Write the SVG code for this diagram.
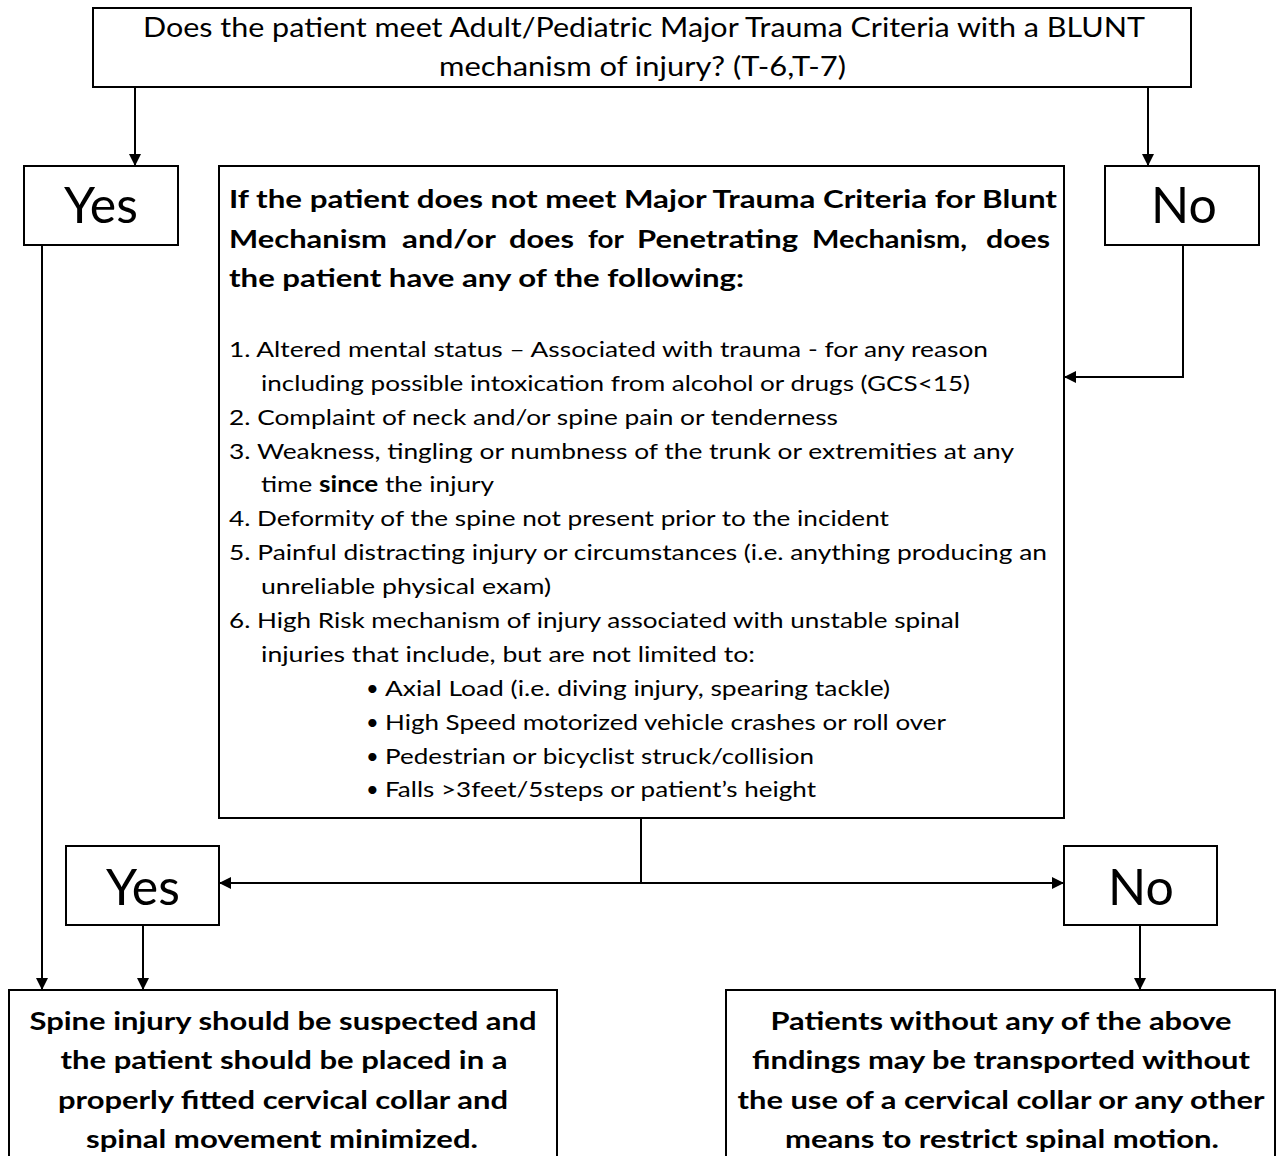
<svg xmlns="http://www.w3.org/2000/svg" width="1279" height="1156" viewBox="0 0 1279 1156">
<defs>
<marker id="ah" viewBox="0 0 10 10" refX="10" refY="5" markerWidth="12" markerHeight="12" markerUnits="userSpaceOnUse" orient="auto"><path d="M0,0 L10,5 L0,10 z" fill="#000"/></marker>
<style>
.box{fill:#fff;stroke:#000;stroke-width:2}
.c{fill:none;stroke:#000;stroke-width:2}
.ar{marker-end:url(#ah)}
text{font-family:Lato,"Open Sans","Liberation Sans",sans-serif;fill:#000}
.top{font-size:26px}
.yn{font-size:50px;text-anchor:middle}
.hd{font-size:25.5px;font-weight:bold}
.li{font-size:22px}
.bt{font-size:25.5px;font-weight:bold;text-anchor:middle}
</style>
</defs>
<rect width="1279" height="1156" fill="#fff"/>
<g id="connectors">
<path class="c ar" d="M135,87 V166"/>
<path class="c ar" d="M1148,87 V166"/>
<path class="c ar" d="M42,245 V990"/>
<path class="c ar" d="M1183,245 V377 H1064"/>
<path class="c" d="M641,818 V883"/>
<path class="c ar" d="M641,883 H219"/>
<path class="c ar" d="M641,883 H1064"/>
<path class="c ar" d="M143,925 V990"/>
<path class="c ar" d="M1140,925 V990"/>
</g>
<g id="q1">
<rect class="box" x="93" y="8" width="1098" height="79"/>
<text class="top" x="143" y="37" textLength="1002" lengthAdjust="spacingAndGlyphs">Does the patient meet Adult/Pediatric Major Trauma Criteria with a BLUNT</text>
<text class="top" x="439" y="76" textLength="407" lengthAdjust="spacingAndGlyphs">mechanism of injury? (T-6,T-7)</text>
</g>
<g id="yes1">
<rect class="box" x="24" y="166" width="154" height="79"/>
<text class="yn" x="101" y="223">Yes</text>
</g>
<g id="no1">
<rect class="box" x="1105" y="166" width="154" height="79"/>
<text class="yn" x="1184" y="223">No</text>
</g>
<g id="q2">
<rect class="box" x="219" y="166" width="845" height="652"/>
<text class="hd" x="229" y="208" textLength="828" lengthAdjust="spacingAndGlyphs">If the patient does not meet Major Trauma Criteria for Blunt</text>
<text class="hd" x="229" y="248" textLength="158" lengthAdjust="spacingAndGlyphs">Mechanism</text>
<text class="hd" x="402" y="248" textLength="94" lengthAdjust="spacingAndGlyphs">and/or</text>
<text class="hd" x="509" y="248" textLength="65" lengthAdjust="spacingAndGlyphs">does</text>
<text class="hd" x="588" y="248" textLength="36" lengthAdjust="spacingAndGlyphs">for</text>
<text class="hd" x="637" y="248" textLength="161" lengthAdjust="spacingAndGlyphs">Penetrating</text>
<text class="hd" x="812" y="248" textLength="155" lengthAdjust="spacingAndGlyphs">Mechanism,</text>
<text class="hd" x="986" y="248" textLength="64" lengthAdjust="spacingAndGlyphs">does</text>
<text class="hd" x="229" y="287" textLength="515" lengthAdjust="spacingAndGlyphs">the patient have any of the following:</text>
<text class="li" x="229" y="357" textLength="759" lengthAdjust="spacingAndGlyphs">1. Altered mental status – Associated with trauma - for any reason</text>
<text class="li" x="261" y="391" textLength="709" lengthAdjust="spacingAndGlyphs">including possible intoxication from alcohol or drugs (GCS&lt;15)</text>
<text class="li" x="229" y="425" textLength="609" lengthAdjust="spacingAndGlyphs">2. Complaint of neck and/or spine pain or tenderness</text>
<text class="li" x="229" y="459" textLength="785" lengthAdjust="spacingAndGlyphs">3. Weakness, tingling or numbness of the trunk or extremities at any</text>
<text class="li" x="261" y="492" textLength="233" lengthAdjust="spacingAndGlyphs">time <tspan font-weight="bold">since</tspan> the injury</text>
<text class="li" x="229" y="526" textLength="660" lengthAdjust="spacingAndGlyphs">4. Deformity of the spine not present prior to the incident</text>
<text class="li" x="229" y="560" textLength="818" lengthAdjust="spacingAndGlyphs">5. Painful distracting injury or circumstances (i.e. anything producing an</text>
<text class="li" x="261" y="594" textLength="290" lengthAdjust="spacingAndGlyphs">unreliable physical exam)</text>
<text class="li" x="229" y="628" textLength="731" lengthAdjust="spacingAndGlyphs">6. High Risk mechanism of injury associated with unstable spinal</text>
<text class="li" x="261" y="662" textLength="494" lengthAdjust="spacingAndGlyphs">injuries that include, but are not limited to:</text>
<text class="li" x="366" y="696">•</text>
<text class="li" x="385" y="696" textLength="505" lengthAdjust="spacingAndGlyphs">Axial Load (i.e. diving injury, spearing tackle)</text>
<text class="li" x="366" y="730">•</text>
<text class="li" x="385" y="730" textLength="561" lengthAdjust="spacingAndGlyphs">High Speed motorized vehicle crashes or roll over</text>
<text class="li" x="366" y="764">•</text>
<text class="li" x="385" y="764" textLength="429" lengthAdjust="spacingAndGlyphs">Pedestrian or bicyclist struck/collision</text>
<text class="li" x="366" y="797">•</text>
<text class="li" x="385" y="797" textLength="431" lengthAdjust="spacingAndGlyphs">Falls &gt;3feet/5steps or patient’s height</text>
</g>
<g id="yes2">
<rect class="box" x="66" y="846" width="153" height="79"/>
<text class="yn" x="143" y="905">Yes</text>
</g>
<g id="no2">
<rect class="box" x="1064" y="846" width="153" height="79"/>
<text class="yn" x="1141" y="905">No</text>
</g>
<g id="result-yes">
<rect class="box" x="9" y="990" width="548" height="180"/>
<text class="bt" x="283" y="1030" textLength="507" lengthAdjust="spacingAndGlyphs">Spine injury should be suspected and</text>
<text class="bt" x="284" y="1069" textLength="447" lengthAdjust="spacingAndGlyphs">the patient should be placed in a</text>
<text class="bt" x="283" y="1109" textLength="450" lengthAdjust="spacingAndGlyphs">properly fitted cervical collar and</text>
<text class="bt" x="282" y="1148" textLength="392" lengthAdjust="spacingAndGlyphs">spinal movement minimized.</text>
</g>
<g id="result-no">
<rect class="box" x="726" y="990" width="549" height="180"/>
<text class="bt" x="1001" y="1030" textLength="461" lengthAdjust="spacingAndGlyphs">Patients without any of the above</text>
<text class="bt" x="1001" y="1069" textLength="498" lengthAdjust="spacingAndGlyphs">findings may be transported without</text>
<text class="bt" x="1001" y="1109" textLength="527" lengthAdjust="spacingAndGlyphs">the use of a cervical collar or any other</text>
<text class="bt" x="1002" y="1148" textLength="434" lengthAdjust="spacingAndGlyphs">means to restrict spinal motion.</text>
</g>
</svg>
